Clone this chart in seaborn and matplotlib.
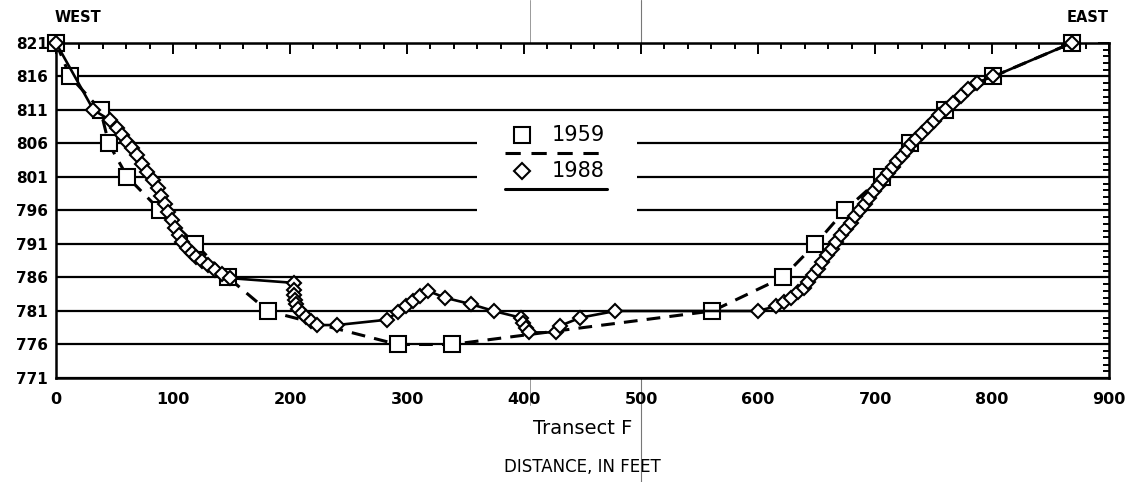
import numpy as np
import pandas as pd
import matplotlib
matplotlib.use("Agg")
import matplotlib.pyplot as plt
import matplotlib.transforms as mtransforms
from matplotlib.lines import Line2D
from matplotlib.patches import Rectangle
from matplotlib.ticker import MultipleLocator
import seaborn as sns

# Channel cross-section, Transect F: ground elevation versus distance
dist_1959 = [0, 12, 38, 45, 61, 89, 119, 147, 181, 292, 338, 561, 621, 649,
             674, 706, 730, 760, 801, 868]
elev_1959 = [821, 816, 811, 806, 801, 796, 791, 786, 781, 776, 776, 781, 786,
             791, 796, 801, 806, 811, 816, 821]

dist_1988 = [0, 32, 46, 52, 56, 60.5, 65, 69, 73.5, 78, 83, 87, 90, 93, 96, 99,
             102, 105, 108, 112, 116, 120, 125, 130, 136, 142, 149,
             203, 203, 203.5, 204, 205, 207, 210, 214, 218, 223, 240, 283, 292,
             299, 305, 311, 318, 332, 355, 374, 397, 399, 402, 404, 427, 431,
             448, 478, 600,
             615, 622, 628, 634, 639, 643, 647, 651, 655, 659, 663, 667, 671,
             675, 679, 683, 687, 691, 695, 699, 703, 707, 711, 715, 719, 723,
             727, 731, 735, 740, 745, 750, 755, 761, 767, 773, 779, 787, 801,
             868]
elev_1988 = [821, 811, 809.5, 808.3, 807.3, 806.2, 805.3, 804.3, 803, 801.7,
             800.5, 799.3, 798.2, 797, 795.8, 794.6, 793.4, 792.3, 791.3, 790.4,
             789.7, 789.1, 788.4, 787.8, 787.1, 786.5, 785.9,
             785.2, 784.2, 783.4, 782.6, 782, 781.3, 780.7, 780.1, 779.5, 778.9,
             778.9, 779.7, 780.9, 781.8, 782.5, 783.2, 784, 783, 782, 781, 780,
             779.2, 778.5, 777.8, 777.8, 778.8, 780, 781, 781,
             781.7, 782.3, 783, 783.8, 784.5, 785.3, 786.3, 787.3, 788.3, 789.3,
             790.3, 791.3, 792.3, 793.3, 794.2, 795.2, 796.1, 797, 797.9, 798.9,
             799.8, 800.7, 801.6, 802.5, 803.4, 804.2, 805.1, 805.9, 806.7,
             807.6, 808.5, 809.3, 810.2, 811.1, 812.1, 813.1, 814.2, 815.1, 816,
             821]

years = ["1959", "1988"]
y_ticks = [821, 816, 811, 806, 801, 796, 791, 786, 781, 776, 771]
x_ticks = [0, 100, 200, 300, 400, 500, 600, 700, 800, 900]

sns.set_style("white")
plt.rcParams["font.family"] = ["DejaVu Sans"]
plt.rcParams["text.color"] = "black"
plt.rcParams["axes.labelcolor"] = "black"
plt.rcParams["xtick.color"] = "black"
plt.rcParams["ytick.color"] = "black"

fig = plt.figure(figsize=(11.44, 4.82), dpi=100)
ax = fig.add_axes([0.049, 0.2158, 0.9205, 0.695])

df59 = pd.DataFrame({"dist": dist_1959, "elev": elev_1959})
df88 = pd.DataFrame({"dist": dist_1988, "elev": elev_1988})

sns.lineplot(data=df59, x="dist", y="elev", ax=ax, sort=False, estimator=None,
             color="black", linewidth=2.2, linestyle="--", marker="s",
             markersize=12, markerfacecolor="white", markeredgecolor="black",
             markeredgewidth=1.5, clip_on=False, zorder=3)
ax.lines[-1].set_dashes([4.5, 3])

sns.lineplot(data=df88, x="dist", y="elev", ax=ax, sort=False, estimator=None,
             color="black", linewidth=1.9, linestyle="-", marker="D",
             markersize=7.5, markerfacecolor="white", markeredgecolor="black",
             markeredgewidth=1.5, clip_on=False, zorder=4)

ax.set_xlim(0, 900)
ax.set_ylim(771, 821)
ax.set_xticks(x_ticks)
ax.set_yticks(y_ticks)
ax.xaxis.set_minor_locator(MultipleLocator(20))
ax.yaxis.set_minor_locator(MultipleLocator(1))
ax.set_xticklabels([str(v) for v in x_ticks])
ax.set_yticklabels([str(v) for v in y_ticks])

ax.tick_params(which="both", direction="in", top=True, right=True,
               color="black", width=1.4, labelcolor="black")
ax.tick_params(which="major", length=8)
ax.tick_params(which="minor", length=4)
ax.tick_params(axis="y", which="major", labelsize=11, pad=6)
ax.tick_params(axis="x", which="major", labelsize=11.5, pad=10)
for lab in ax.get_xticklabels() + ax.get_yticklabels():
    lab.set_fontweight("bold")

for sp in ax.spines.values():
    sp.set_linewidth(1.8)
    sp.set_color("black")

ax.yaxis.grid(True, which="major", color="black", linewidth=1.6, zorder=1)
ax.xaxis.grid(False)
ax.set_axisbelow(True)

ax.set_xlabel("Transect F", fontsize=14, labelpad=9, color="black")
ax.set_ylabel("")

fig.text(0.509, 0.012, "DISTANCE, IN FEET", ha="center", va="bottom",
         fontsize=12, color="black")
fig.text(0.048, 0.963, "WEST", ha="left", va="center", fontsize=10.5,
         fontweight="bold", color="black")
fig.text(0.969, 0.963, "EAST", ha="right", va="center", fontsize=10.5,
         fontweight="bold", color="black")

# Legend block: marker over its line style, on a white panel
ax.add_patch(Rectangle((0.400, 0.436), 0.152, 0.325, transform=ax.transAxes,
                       facecolor="white", edgecolor="none", zorder=2))
ax.add_line(Line2D([0.4425], [0.7254], transform=ax.transAxes, marker="s",
                   markersize=12, markerfacecolor="white",
                   markeredgecolor="black", markeredgewidth=1.5, zorder=5))
ax.text(0.471, 0.7254, years[0], transform=ax.transAxes, ha="left",
        va="center", fontsize=15, zorder=5, color="black")
ax.add_line(Line2D([0.4264, 0.5233], [0.6716, 0.6716], transform=ax.transAxes,
                   color="black", linewidth=2.2, dashes=[5, 3.5], zorder=5))
ax.add_line(Line2D([0.4425], [0.618], transform=ax.transAxes, marker="D",
                   markersize=8, markerfacecolor="white",
                   markeredgecolor="black", markeredgewidth=1.5, zorder=5))
ax.text(0.471, 0.618, years[1], transform=ax.transAxes, ha="left",
        va="center", fontsize=15, zorder=5, color="black")
ax.add_line(Line2D([0.4264, 0.5233], [0.564, 0.564], transform=ax.transAxes,
                   color="black", linewidth=2.2, zorder=5))

# Faint page-fold lines running through the sheet
fold = mtransforms.blended_transform_factory(ax.transData, fig.transFigure)
fig.add_artist(Line2D([500, 500], [0, 1], transform=fold, color="#777777",
                      linewidth=0.8, zorder=0))
fig.add_artist(Line2D([405, 405], [0.16, 1], transform=fold, color="#999999",
                      linewidth=0.7, zorder=0))

fig.savefig("out.png", dpi=100)
